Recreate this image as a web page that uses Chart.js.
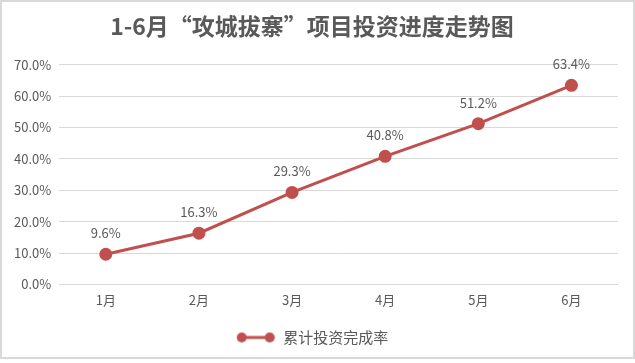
<!DOCTYPE html>
<html>
<head>
<meta charset="utf-8">
<style>
  html, body { margin: 0; padding: 0; background: #fff; }
  #wrap {
    position: absolute; left: 0; top: 0;
    width: 631px; height: 355px;
    border: 2px solid #d9d9d9;
    background: #fff;
  }
</style>
</head>
<body>
<div id="wrap"><canvas id="chart"></canvas></div>
<script src="https://cdn.jsdelivr.net/npm/chart.js"></script>
<script>
const months = ["1月", "2月", "3月", "4月", "5月", "6月"];
const progress = [9.6, 16.3, 29.3, 40.8, 51.2, 63.4];
const seriesName = "累计投资完成率";
const chartTitle = "1-6月“攻城拔寨”项目投资进度走势图";

const FONT = "'Noto Sans CJK SC', 'Noto Sans', sans-serif";
const GREY = "#595959";
const RED = "#c0504d";

// legend marker: line with a dot at each end
const legendIcon = document.createElement("canvas");
legendIcon.width = 40;
legendIcon.height = 12;
(function() {
  const c = legendIcon.getContext("2d");
  c.strokeStyle = RED;
  c.fillStyle = RED;
  c.lineWidth = 3;
  c.beginPath(); c.moveTo(5, 6); c.lineTo(35, 6); c.stroke();
  c.beginPath(); c.arc(6, 6, 5, 0, Math.PI * 2); c.fill();
  c.beginPath(); c.arc(34, 6, 5, 0, Math.PI * 2); c.fill();
})();

// labels above each point
const pointLabels = {
  id: "pointLabels",
  afterDatasetsDraw(chart) {
    const ctx = chart.ctx;
    const meta = chart.getDatasetMeta(0);
    ctx.save();
    ctx.font = "13px " + FONT;
    ctx.fillStyle = GREY;
    ctx.textAlign = "center";
    ctx.textBaseline = "middle";
    meta.data.forEach(function(pt, i) {
      ctx.fillText(progress[i].toFixed(1) + "%", pt.x, pt.y - 21);
    });
    ctx.restore();
  }
};

const ctx = document.getElementById("chart").getContext("2d");
new Chart(ctx, {
  type: "line",
  data: {
    labels: months,
    datasets: [{
      label: seriesName,
      data: progress,
      borderColor: RED,
      backgroundColor: RED,
      borderWidth: 3,
      pointRadius: 5,
      pointHoverRadius: 5,
      tension: 0
    }]
  },
  options: {
    responsive: true,
    maintainAspectRatio: false,
    animation: false,
    layout: { padding: { left: 4, right: 15, top: 4, bottom: 2 } },
    plugins: {
      title: {
        display: true,
        text: chartTitle,
        color: GREY,
        font: { family: FONT, size: 23, weight: "bold" },
        padding: { top: 6, bottom: 25 }
      },
      legend: {
        position: "bottom",
        labels: {
          color: GREY,
          font: { family: FONT, size: 15 },
          usePointStyle: true,
          pointStyleWidth: 40,
          padding: 14,
          generateLabels: function(chart) {
            return [{
              text: seriesName,
              pointStyle: legendIcon,
              fillStyle: RED,
              strokeStyle: RED,
              lineWidth: 0,
              fontColor: GREY,
              datasetIndex: 0
            }];
          }
        }
      },
      tooltip: { enabled: false }
    },
    scales: {
      x: {
        offset: true,
        grid: { display: false, drawTicks: false },
        border: { display: false },
        ticks: { color: GREY, font: { family: FONT, size: 13 }, padding: 8 }
      },
      y: {
        min: 0,
        max: 70,
        grid: { color: "#d9d9d9", drawTicks: false },
        border: { display: false },
        ticks: {
          stepSize: 10,
          color: GREY,
          font: { family: FONT, size: 13 },
          padding: 8,
          callback: function(v) { return v.toFixed(1) + "%"; }
        }
      }
    }
  },
  plugins: [pointLabels]
});
</script>
</body>
</html>
